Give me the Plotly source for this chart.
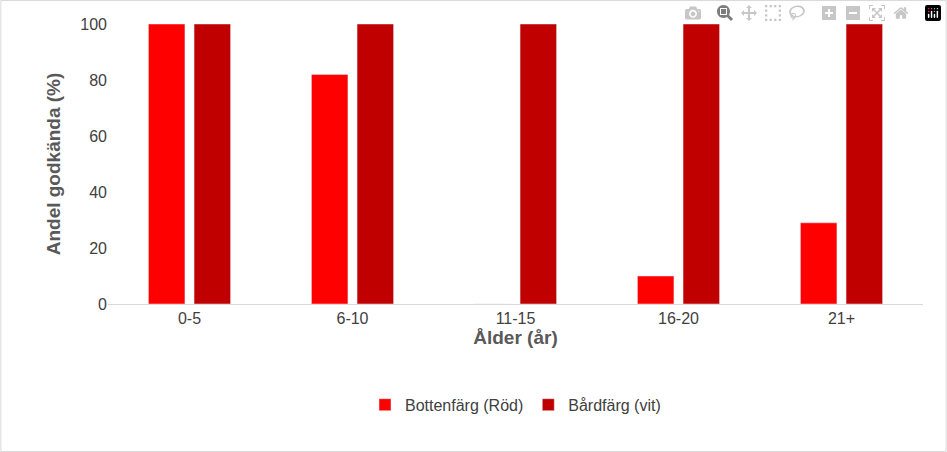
import plotly.graph_objects as go

# data
categories = ["0-5", "6-10", "11-15", "16-20", "21+"]
bottenfarg = [100, 82, 0, 10, 29]
bardfarg = [100, 100, 100, 100, 100]

fig = go.Figure()
fig.add_trace(go.Bar(x=categories, y=bottenfarg, name="Bottenfärg (Röd)", marker_color="#FF0000"))
fig.add_trace(go.Bar(x=categories, y=bardfarg, name="Bårdfärg (vit)", marker_color="#C00000"))

W, H = 947, 452
ml, mr, mt, mb = 108, 24, 24, 148
pw, ph = W - ml - mr, H - mt - mb

fig.update_layout(
    width=W, height=H,
    margin=dict(l=ml, r=mr, t=mt, b=mb),
    paper_bgcolor="white", plot_bgcolor="white",
    font=dict(family="Liberation Sans", size=16, color="#595959"),
    barmode="group", bargap=0.44, bargroupgap=0.2,
    showlegend=True,
    legend=dict(orientation="h", x=0.5, xanchor="center", y=-0.36, yanchor="middle",
                font=dict(size=16, color="#404040"), traceorder="normal"),
    xaxis=dict(title=dict(text="<b>Ålder (år)</b>", standoff=4), showline=True,
               linecolor="#D9D9D9", ticks="", tickfont=dict(color="#404040")),
    yaxis=dict(title=dict(text="<b>Andel godkända (%)</b>", standoff=14), range=[0, 100],
               dtick=20, showgrid=False, zeroline=False, tickfont=dict(color="#404040")),
    shapes=[dict(type="rect", xref="paper", yref="paper",
                 x0=-ml / pw + 0.001, x1=1 + mr / pw - 0.001,
                 y0=-mb / ph + 0.002, y1=1 + mt / ph - 0.002,
                 line=dict(color="#D9D9D9", width=1))],
)

fig.write_html("out.html")

# drop the default page margin so the chart fills the window
with open("out.html", encoding="utf-8") as f:
    html = f.read()
html = html.replace("<body>", '<body style="margin:0;overflow:hidden">', 1)
with open("out.html", "w", encoding="utf-8") as f:
    f.write(html)
